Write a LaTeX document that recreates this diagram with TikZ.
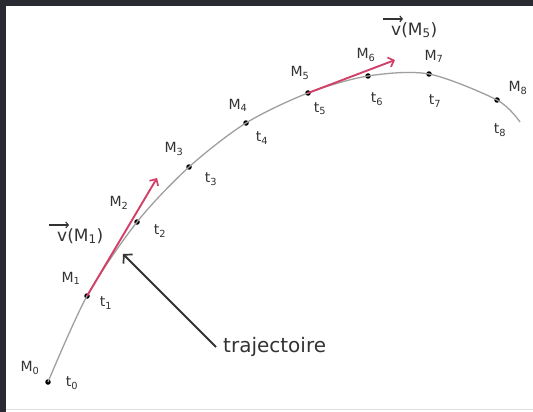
\documentclass[tikz,border=0pt]{standalone}
\usepackage{fontspec}
\setmainfont{DejaVu Sans}
\usetikzlibrary{arrows.meta}
\definecolor{vred}{HTML}{D2406A}
\definecolor{frame}{HTML}{2A2A33}
\definecolor{ink}{HTML}{333333}
\begin{document}
\begin{tikzpicture}[x=1pt,y=-1pt,
  pt/.style={circle,fill=black,inner sep=0pt,minimum size=5.5pt},
  lab/.style={font=\fontsize{14}{15}\selectfont,text=ink,inner sep=0pt},
  vlab/.style={font=\fontsize{17}{18}\selectfont,text=ink,inner sep=0pt,anchor=west},
  traj/.style={draw=gray!75,line width=1.3pt},
  vec/.style={draw=vred,line width=1.9pt,-{Straight Barb[length=5pt,width=10pt,line width=1.7pt]}},
  vecsign/.style={draw=ink,line width=1.3pt,-{Straight Barb[length=2.5pt,width=6pt,line width=1.1pt]}},
  tarr/.style={draw=ink,line width=1.9pt,-{Straight Barb[length=6pt,width=13pt,line width=1.7pt]}}]
% background and frame
\fill[white] (0,0) rectangle (533,412);
\useasboundingbox (0,0) rectangle (533,412);
\fill[frame] (0,0) rectangle (533,6);
\fill[frame] (0,0) rectangle (6,412);
\draw[gray!25,line width=1pt] (6,409) -- (533,409);
% points
\node[pt] (m0) at (48,382) {};
\node[pt] (m1) at (87,296) {};
\node[pt] (m2) at (137,222) {};
\node[pt] (m3) at (189,167) {};
\node[pt] (m4) at (246,123) {};
\node[pt] (m5) at (308,93) {};
\node[pt] (m6) at (368,76) {};
\node[pt] (m7) at (429,74) {};
\node[pt] (m8) at (497,100) {};
\coordinate (mend) at (520,122);
% trajectory
\draw[traj] plot[smooth,tension=0.5] coordinates {(m0.center) (m1.center) (m2.center) (m3.center) (m4.center) (m5.center) (m6.center) (m7.center) (m8.center) (mend)};
% labels
\node[lab] (lm0) at (30,368) {M\textsubscript{0}};
\node[lab] (lt0) at (72,383) {t\textsubscript{0}};
\node[lab] (lm1) at (71,278) {M\textsubscript{1}};
\node[lab] (lt1) at (106,303) {t\textsubscript{1}};
\node[lab] (lm2) at (119,203) {M\textsubscript{2}};
\node[lab] (lt2) at (160,231) {t\textsubscript{2}};
\node[lab] (lm3) at (174,149) {M\textsubscript{3}};
\node[lab] (lt3) at (211,179) {t\textsubscript{3}};
\node[lab] (lm4) at (238,105) {M\textsubscript{4}};
\node[lab] (lt4) at (262,138) {t\textsubscript{4}};
\node[lab] (lm5) at (300,73) {M\textsubscript{5}};
\node[lab] (lt5) at (320,109) {t\textsubscript{5}};
\node[lab] (lm6) at (366,55) {M\textsubscript{6}};
\node[lab] (lt6) at (377,99) {t\textsubscript{6}};
\node[lab] (lm7) at (434,56) {M\textsubscript{7}};
\node[lab] (lt7) at (435,101) {t\textsubscript{7}};
\node[lab] (lm8) at (518,88) {M\textsubscript{8}};
\node[lab] (lt8) at (500,130) {t\textsubscript{8}};
% velocity vectors
\coordinate (v1) at (157,178);
\coordinate (v5) at (395,60);
\draw[vec] (m1.center) -- (v1);
\draw[vec] (m5.center) -- (v5);
\node[vlab] (lv1) at (57,236) {v(M\textsubscript{1})};
\node[vlab] (lv5) at (391,30) {v(M\textsubscript{5})};
\draw[vecsign] ([xshift=-8pt,yshift=3pt]lv1.north west) -- ++(20pt,0);
\draw[vecsign] ([xshift=-8pt,yshift=3pt]lv5.north west) -- ++(20pt,0);
% trajectoire pointer
\node[font=\fontsize{20}{22}\selectfont,text=ink,anchor=west,inner sep=0pt] (tlab) at (223,347) {trajectoire};
\coordinate (ttip) at (123,254);
\draw[tarr] ([xshift=-7pt]tlab.west) -- (ttip);
\end{tikzpicture}
\end{document}
